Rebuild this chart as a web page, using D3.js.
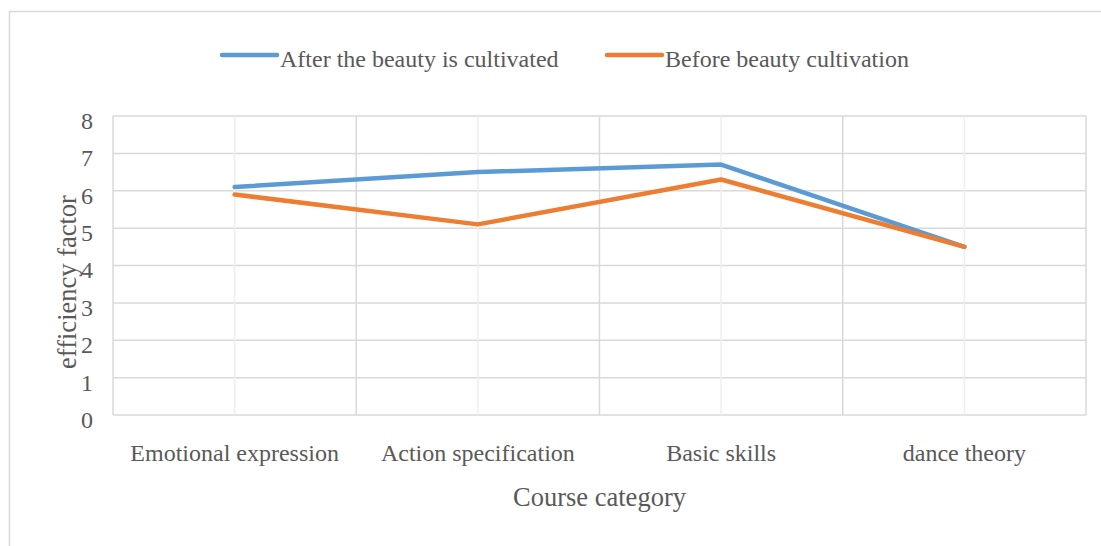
<!DOCTYPE html>
<html><head><meta charset="utf-8">
<script src="https://cdn.jsdelivr.net/npm/d3@7"></script>
<style>body{margin:0;background:#fff}svg{display:block}text{font-family:"Liberation Serif","Times New Roman",serif;fill:#595959}</style>
</head><body><svg id="c" width="1101" height="546"></svg>
<script>
const categories = ["Emotional expression","Action specification","Basic skills","dance theory"];
const seriesNames = ["After the beauty is cultivated","Before beauty cultivation"];
const afterValues = [6.1, 6.5, 6.7, 4.5];
const beforeValues = [5.9, 5.1, 6.3, 4.5];
const yTicks = [0,1,2,3,4,5,6,7,8];
const colors = ["#5B9BD5","#ED7D31"];

const svg = d3.select("#c");
const L = 113, R = 1086, T = 116, B = 415;
svg.append("rect").attr("x",9.5).attr("y",11.5).attr("width",1100).attr("height",540)
  .attr("fill","#fff").attr("stroke","#d9d9d9").attr("stroke-width",1.5);

const x = d3.scaleBand().domain(categories).range([L,R]);
const y = d3.scaleLinear().domain([0,8]).range([B,T]);

const g = svg.append("g");
g.selectAll(".hg").data(yTicks).join("line")
  .attr("x1",L).attr("x2",R).attr("y1",d=>y(d)).attr("y2",d=>y(d))
  .attr("stroke","#d9d9d9").attr("stroke-width",1.5);
const bounds = categories.map(c=>x(c)).concat([R]);
g.selectAll(".vb").data(bounds).join("line")
  .attr("x1",d=>d).attr("x2",d=>d).attr("y1",T).attr("y2",B)
  .attr("stroke","#d9d9d9").attr("stroke-width",1.5);
g.selectAll(".vc").data(categories).join("line")
  .attr("x1",d=>x(d)+x.bandwidth()/2).attr("x2",d=>x(d)+x.bandwidth()/2).attr("y1",T).attr("y2",B)
  .attr("stroke","#efefef").attr("stroke-width",1.5);

const yAxis = d3.axisLeft(y).tickValues(yTicks).tickSize(0).tickPadding(0).tickFormat(d3.format("d"));
const ya = svg.append("g").attr("transform",`translate(${L-20},4)`).call(yAxis);
ya.select(".domain").remove();
ya.selectAll("text").attr("font-size",24).attr("font-family","Liberation Serif").attr("fill","#595959").attr("dy","0.35em");

const xAxis = d3.axisBottom(x).tickSize(0).tickPadding(0);
const xa = svg.append("g").attr("transform",`translate(0,${B+46})`).call(xAxis);
xa.select(".domain").remove();
xa.selectAll("text").attr("font-size",24).attr("font-family","Liberation Serif").attr("fill","#595959").attr("dy",0);

svg.append("text").attr("x",(L+R)/2).attr("y",506).attr("text-anchor","middle").attr("font-size",26.5).text("Course category");
svg.append("text").attr("transform","translate(76,282) rotate(-90)").attr("text-anchor","middle").attr("font-size",26.5).text("efficiency factor");

const line = d3.line().x((d,i)=>x(categories[i])+x.bandwidth()/2).y(d=>y(d));
[afterValues,beforeValues].forEach((vals,k)=>{
  svg.append("path").attr("d",line(vals)).attr("fill","none").attr("stroke",colors[k])
    .attr("stroke-width",4.5).attr("stroke-linecap","round").attr("stroke-linejoin","round");
});

const legendX = [222, 607];
seriesNames.forEach((n,k)=>{
  svg.append("line").attr("x1",legendX[k]).attr("x2",legendX[k]+55).attr("y1",55).attr("y2",55)
    .attr("stroke",colors[k]).attr("stroke-width",4.5).attr("stroke-linecap","round");
  svg.append("text").attr("x",legendX[k]+58).attr("y",67).attr("font-size",24).text(n);
});
</script></body></html>
